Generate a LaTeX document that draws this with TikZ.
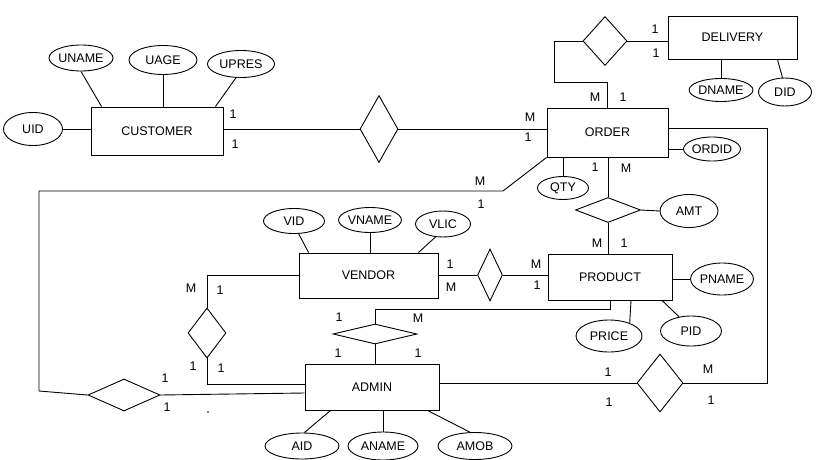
\documentclass[tikz,border=0pt]{standalone}
\usepackage{fontspec}
\setmainfont{Liberation Sans}
\usetikzlibrary{shapes.geometric}
\begin{document}
\begin{tikzpicture}[x=1pt,y=-1pt,line width=0.9pt,font=\fontsize{12.5}{14}\selectfont,
  entity/.style={draw,rectangle,inner sep=0pt},
  attr/.style={draw,ellipse,inner sep=0pt},
  rel/.style={draw,diamond,inner sep=0pt},
  card/.style={inner sep=0pt}]
\useasboundingbox[fill=white] (0,0) rectangle (819,460);
% entities
\node[entity,minimum width=132pt,minimum height=48pt] (customer) at (157,131) {CUSTOMER};
\node[entity,minimum width=121pt,minimum height=49pt] (order) at (607.5,132.5) {ORDER};
\node[entity,minimum width=129pt,minimum height=43pt] (delivery) at (732.5,37.5) {DELIVERY};
\node[entity,minimum width=139pt,minimum height=45pt] (vendor) at (368.5,275.5) {VENDOR};
\node[entity,minimum width=124pt,minimum height=46pt] (product) at (610,277) {PRODUCT};
\node[entity,minimum width=134pt,minimum height=46pt] (admin) at (372,387) {ADMIN};
% relationships
\node[rel,minimum width=38pt,minimum height=67pt] (d1) at (379,129) {};
\node[rel,minimum width=44pt,minimum height=49pt] (d2) at (605,41) {};
\node[rel,minimum width=65pt,minimum height=25pt] (d3) at (608,210) {};
\node[rel,minimum width=25pt,minimum height=52pt] (d4) at (490,275) {};
\node[rel,minimum width=38pt,minimum height=50pt] (d5) at (207,333) {};
\node[rel,minimum width=84pt,minimum height=20pt] (d6) at (375,334) {};
\node[rel,minimum width=72pt,minimum height=32pt] (d7) at (124,395) {};
\node[rel,minimum width=46pt,minimum height=58pt] (d8) at (660,383) {};
% attributes
\node[attr,minimum width=59pt,minimum height=33pt] (uid) at (33,129) {UID};
\node[attr,minimum width=64pt,minimum height=26pt] (uname) at (81,58) {UNAME};
\node[attr,minimum width=68pt,minimum height=29pt] (uage) at (163,60) {UAGE};
\node[attr,minimum width=67pt,minimum height=27pt] (upres) at (241,64) {UPRES};
\node[attr,minimum width=54pt,minimum height=23pt] (dname) at (721,90) {DNAME};
\node[attr,minimum width=53pt,minimum height=28pt] (did) at (785,92) {DID};
\node[attr,minimum width=52pt,minimum height=24pt] (ordid) at (712,149) {ORDID};
\node[attr,minimum width=51pt,minimum height=23pt] (qty) at (563,188) {QTY};
\node[attr,minimum width=58pt,minimum height=33pt] (amt) at (689,211) {AMT};
\node[attr,minimum width=61pt,minimum height=25pt] (vid) at (294,221) {VID};
\node[attr,minimum width=62pt,minimum height=25pt] (vname) at (370,220) {VNAME};
\node[attr,minimum width=55pt,minimum height=26pt] (vlic) at (443,224) {VLIC};
\node[attr,minimum width=58pt,minimum height=32pt] (pname) at (722,279) {PNAME};
\node[attr,minimum width=66pt,minimum height=32pt] (price) at (609,336) {PRICE};
\node[attr,minimum width=61pt,minimum height=30pt] (pid) at (691,331) {PID};
\node[attr,minimum width=74pt,minimum height=26pt] (aid) at (302,446) {AID};
\node[attr,minimum width=70pt,minimum height=28pt] (aname) at (383,446) {ANAME};
\node[attr,minimum width=74pt,minimum height=27pt] (amob) at (475,446) {AMOB};
% free corner coordinates
\coordinate (l1) at (39,391);
\coordinate (l2) at (39,191);
\coordinate (l3) at (503,191);
\coordinate (r1) at (767,128);
% attribute connectors
\draw (uid.east) -- (uid.east -| customer.west);
\draw (uname.south) -- ([xshift=11pt]customer.north west);
\draw (uage.south) -- (uage.south |- customer.north);
\draw (upres.250) -- ([xshift=-8pt]customer.north east);
\draw (dname.north |- delivery.south) -- (dname.north);
\draw ([xshift=-20pt]delivery.south east) -- (did.100);
\draw (ordid.west -| order.east) -- (ordid.west);
\draw (qty.north |- order.south) -- (qty.north);
\draw (d3.east) -- (amt.west);
\draw (vid.290) -- ([xshift=10pt]vendor.north west);
\draw (vname.south) -- (vname.south |- vendor.north);
\draw (vlic.240) -- ([xshift=-20pt]vendor.north east);
\draw (pname.west -| product.east) -- (pname.west);
\draw ([xshift=21pt]product.south) -- (price.32);
\draw ([xshift=52pt]product.south) -- (pid.130);
\draw ([xshift=26pt]admin.south west) -- (aid.80);
\draw (aname.north |- admin.south) -- (aname.north);
\draw ([xshift=-12pt]admin.south east) -- (amob.110);
% relationship connectors
\draw (d1.west -| customer.east) -- (d1.west);
\draw (d1.east) -- (d1.east -| order.west);
\draw (d2.west) -- ++(-28,0) |- ([yshift=25pt]order.north) -- (order.north);
\draw (d2.east) -- (d2.east -| delivery.west);
\draw ([yshift=4.5pt]order.east) -- (r1) |- (d8.east);
\draw (d3.north |- order.south) -- (d3.north);
\draw (d3.south) -- (d3.south |- product.north);
\draw (d4.west -| vendor.east) -- (d4.west);
\draw (d4.east) -- (d4.east -| product.west);
\draw (vendor.west) -| (d5.north);
\draw (d5.south) |- ([yshift=3pt]admin.west);
\draw (product.south) -- ++(0,9) -| (d6.north);
\draw (d6.south) -- (d6.south |- admin.north);
\draw (d7.east) -- ([yshift=-6pt]admin.west);
\draw (d7.west) -- (l1) -- (l2) -- (l3) -- (order.south west);
\draw (d8.west -| admin.east) -- (d8.west);
% cardinalities
\node[card] (k1) at (233,114) {1};
\node[card] (k2) at (235,144) {1};
\node[card] (k3) at (530,117) {M};
\node[card] (k4) at (528,137) {1};
\node[card] (k5) at (480,181) {M};
\node[card] (k6) at (481,204) {1};
\node[card] (k7) at (655,29) {1};
\node[card] (k8) at (656,53) {1};
\node[card] (k9) at (595,97) {M};
\node[card] (k10) at (623,97) {1};
\node[card] (k11) at (595,167) {1};
\node[card] (k12) at (626,168) {M};
\node[card] (k13) at (597,243) {M};
\node[card] (k14) at (624,243) {1};
\node[card] (k15) at (450,264) {1};
\node[card] (k16) at (451,287) {M};
\node[card] (k17) at (536,264) {M};
\node[card] (k18) at (537,285) {1};
\node[card] (k19) at (191,288) {M};
\node[card] (k20) at (220,290) {1};
\node[card] (k21) at (193,366) {1};
\node[card] (k22) at (221,368) {1};
\node[card] (k23) at (339,317) {1};
\node[card] (k24) at (418,318) {M};
\node[card] (k25) at (338,353) {1};
\node[card] (k26) at (418,353) {1};
\node[card] (k27) at (165,378) {1};
\node[card] (k28) at (167,407) {1};
\node[card] (k29) at (608,372) {1};
\node[card] (k30) at (609,402) {1};
\node[card] (k31) at (708,369) {M};
\node[card] (k32) at (711,400) {1};
\fill (208,412) circle (0.8pt);
\end{tikzpicture}
\end{document}
